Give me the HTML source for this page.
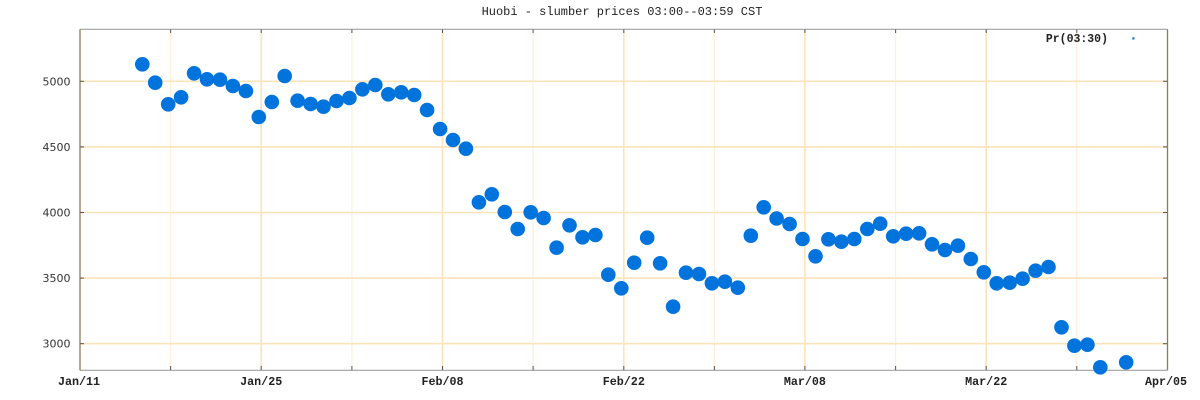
<!DOCTYPE html>
<html><head><meta charset="utf-8"><style>
html,body{margin:0;padding:0;background:#fff;}
svg{display:block;}
</style></head><body>
<svg width="1200" height="400" viewBox="0 0 1200 400" xmlns="http://www.w3.org/2000/svg">
<rect x="0" y="0" width="1200" height="400" fill="#fff"/>
<g stroke="#fff0dc" stroke-width="1.3">
<line x1="170.6" y1="29.5" x2="170.6" y2="370"/>
<line x1="351.9" y1="29.5" x2="351.9" y2="370"/>
<line x1="533.1" y1="29.5" x2="533.1" y2="370"/>
<line x1="714.4" y1="29.5" x2="714.4" y2="370"/>
<line x1="895.6" y1="29.5" x2="895.6" y2="370"/>
<line x1="1076.8" y1="29.5" x2="1076.8" y2="370"/>
</g>
<g stroke="#ffe3b8" stroke-width="1.6">
<line x1="261.2" y1="29.5" x2="261.2" y2="370"/>
<line x1="442.5" y1="29.5" x2="442.5" y2="370"/>
<line x1="623.8" y1="29.5" x2="623.8" y2="370"/>
<line x1="804.9" y1="29.5" x2="804.9" y2="370"/>
<line x1="986.2" y1="29.5" x2="986.2" y2="370"/>
<line x1="80" y1="81.3" x2="1167.5" y2="81.3"/>
<line x1="80" y1="146.9" x2="1167.5" y2="146.9"/>
<line x1="80" y1="212.5" x2="1167.5" y2="212.5"/>
<line x1="80" y1="278.1" x2="1167.5" y2="278.1"/>
<line x1="80" y1="343.7" x2="1167.5" y2="343.7"/>
</g>
<line x1="80" y1="29.3" x2="1167.5" y2="29.3" stroke="#a0a0a0" stroke-width="1.2"/>
<line x1="80" y1="370.3" x2="1167.5" y2="370.3" stroke="#a0a0a0" stroke-width="1.2"/>
<line x1="80" y1="29.3" x2="80" y2="370.3" stroke="#8e7b5c" stroke-width="1.3"/>
<line x1="1167.5" y1="29.3" x2="1167.5" y2="370.3" stroke="#8e7b5c" stroke-width="1.3"/>
<g stroke="#555" stroke-width="1">
<line x1="170.6" y1="370" x2="170.6" y2="366"/><line x1="261.2" y1="370" x2="261.2" y2="366"/>
<line x1="351.9" y1="370" x2="351.9" y2="366"/><line x1="442.5" y1="370" x2="442.5" y2="366"/>
<line x1="533.1" y1="370" x2="533.1" y2="366"/><line x1="623.8" y1="370" x2="623.8" y2="366"/>
<line x1="714.4" y1="370" x2="714.4" y2="366"/><line x1="804.9" y1="370" x2="804.9" y2="366"/>
<line x1="895.6" y1="370" x2="895.6" y2="366"/><line x1="986.2" y1="370" x2="986.2" y2="366"/>
<line x1="1076.8" y1="370" x2="1076.8" y2="366"/>
<line x1="170.6" y1="29.5" x2="170.6" y2="33"/><line x1="261.2" y1="29.5" x2="261.2" y2="33"/>
<line x1="351.9" y1="29.5" x2="351.9" y2="33"/><line x1="442.5" y1="29.5" x2="442.5" y2="33"/>
<line x1="533.1" y1="29.5" x2="533.1" y2="33"/><line x1="623.8" y1="29.5" x2="623.8" y2="33"/>
<line x1="714.4" y1="29.5" x2="714.4" y2="33"/><line x1="804.9" y1="29.5" x2="804.9" y2="33"/>
<line x1="895.6" y1="29.5" x2="895.6" y2="33"/><line x1="986.2" y1="29.5" x2="986.2" y2="33"/>
<line x1="1076.8" y1="29.5" x2="1076.8" y2="33"/>
<line x1="80" y1="81.3" x2="84" y2="81.3"/><line x1="80" y1="146.9" x2="84" y2="146.9"/>
<line x1="80" y1="212.5" x2="84" y2="212.5"/><line x1="80" y1="278.1" x2="84" y2="278.1"/>
<line x1="80" y1="343.7" x2="84" y2="343.7"/>
<line x1="1167" y1="81.3" x2="1163" y2="81.3"/><line x1="1167" y1="146.9" x2="1163" y2="146.9"/>
<line x1="1167" y1="212.5" x2="1163" y2="212.5"/><line x1="1167" y1="278.1" x2="1163" y2="278.1"/>
<line x1="1167" y1="343.7" x2="1163" y2="343.7"/>
</g>
<text x="622" y="15" font-family="Liberation Mono, monospace" font-size="12" fill="#222" text-anchor="middle">Huobi - slumber prices 03:00--03:59 CST</text>
<g font-family="DejaVu Sans, sans-serif" font-size="11" fill="#333" text-anchor="end">
<text x="70.5" y="85.3">5000</text>
<text x="70.5" y="150.9">4500</text>
<text x="70.5" y="216.5">4000</text>
<text x="70.5" y="282.1">3500</text>
<text x="70.5" y="347.7">3000</text>
</g>
<g font-family="Liberation Mono, monospace" font-size="11.7" fill="#222" text-anchor="middle" font-weight="bold">
<text x="79" y="385">Jan/11</text>
<text x="261.2" y="385">Jan/25</text>
<text x="442.5" y="385">Feb/08</text>
<text x="623.8" y="385">Feb/22</text>
<text x="804.9" y="385">Mar/08</text>
<text x="986.2" y="385">Mar/22</text>
<text x="1166" y="385">Apr/05</text>
</g>
<text x="1108" y="42" font-family="Liberation Mono, monospace" font-size="11.5" font-weight="bold" fill="#222" text-anchor="end">Pr(03:30)</text>
<rect x="1132.3" y="37.3" width="2.2" height="2.2" fill="#0073dd"/>
<g fill="#0073dd">
<circle cx="142.3" cy="64.3" r="7.3"/>
<circle cx="155.2" cy="82.7" r="7.3"/>
<circle cx="168.2" cy="104.3" r="7.3"/>
<circle cx="181.1" cy="97.3" r="7.3"/>
<circle cx="194.1" cy="73.3" r="7.3"/>
<circle cx="207.0" cy="79.3" r="7.3"/>
<circle cx="220.0" cy="79.7" r="7.3"/>
<circle cx="232.9" cy="86" r="7.3"/>
<circle cx="245.9" cy="91" r="7.3"/>
<circle cx="258.8" cy="117" r="7.3"/>
<circle cx="271.8" cy="102" r="7.3"/>
<circle cx="284.7" cy="76" r="7.3"/>
<circle cx="297.6" cy="100.7" r="7.3"/>
<circle cx="310.6" cy="104" r="7.3"/>
<circle cx="323.5" cy="106.7" r="7.3"/>
<circle cx="336.5" cy="101" r="7.3"/>
<circle cx="349.4" cy="98" r="7.3"/>
<circle cx="362.4" cy="89.3" r="7.3"/>
<circle cx="375.3" cy="85" r="7.3"/>
<circle cx="388.3" cy="94.3" r="7.3"/>
<circle cx="401.2" cy="92.3" r="7.3"/>
<circle cx="414.2" cy="95" r="7.3"/>
<circle cx="427.1" cy="110" r="7.3"/>
<circle cx="440.1" cy="129" r="7.3"/>
<circle cx="453.0" cy="140" r="7.3"/>
<circle cx="465.9" cy="148.7" r="7.3"/>
<circle cx="478.9" cy="202.3" r="7.3"/>
<circle cx="491.8" cy="194.3" r="7.3"/>
<circle cx="504.8" cy="212" r="7.3"/>
<circle cx="517.7" cy="229" r="7.3"/>
<circle cx="530.7" cy="212.3" r="7.3"/>
<circle cx="543.6" cy="218" r="7.3"/>
<circle cx="556.6" cy="247.7" r="7.3"/>
<circle cx="569.5" cy="225.3" r="7.3"/>
<circle cx="582.5" cy="237.3" r="7.3"/>
<circle cx="595.4" cy="235" r="7.3"/>
<circle cx="608.3" cy="274.7" r="7.3"/>
<circle cx="621.3" cy="288.3" r="7.3"/>
<circle cx="634.2" cy="262.7" r="7.3"/>
<circle cx="647.2" cy="237.7" r="7.3"/>
<circle cx="660.1" cy="263.3" r="7.3"/>
<circle cx="673.1" cy="306.7" r="7.3"/>
<circle cx="686.0" cy="272.7" r="7.3"/>
<circle cx="699.0" cy="274" r="7.3"/>
<circle cx="711.9" cy="283.3" r="7.3"/>
<circle cx="724.9" cy="281.7" r="7.3"/>
<circle cx="737.8" cy="287.7" r="7.3"/>
<circle cx="750.8" cy="235.7" r="7.3"/>
<circle cx="763.7" cy="207.3" r="7.3"/>
<circle cx="776.6" cy="218.5" r="7.3"/>
<circle cx="789.6" cy="224" r="7.3"/>
<circle cx="802.5" cy="239" r="7.3"/>
<circle cx="815.5" cy="256.3" r="7.3"/>
<circle cx="828.4" cy="239.3" r="7.3"/>
<circle cx="841.4" cy="241.7" r="7.3"/>
<circle cx="854.3" cy="239" r="7.3"/>
<circle cx="867.3" cy="229" r="7.3"/>
<circle cx="880.2" cy="223.7" r="7.3"/>
<circle cx="893.2" cy="236.3" r="7.3"/>
<circle cx="906.1" cy="233.7" r="7.3"/>
<circle cx="919.1" cy="233.3" r="7.3"/>
<circle cx="932.0" cy="244.3" r="7.3"/>
<circle cx="945.0" cy="250" r="7.3"/>
<circle cx="957.9" cy="245.7" r="7.3"/>
<circle cx="970.8" cy="259" r="7.3"/>
<circle cx="983.8" cy="272.3" r="7.3"/>
<circle cx="996.7" cy="283.3" r="7.3"/>
<circle cx="1009.7" cy="282.7" r="7.3"/>
<circle cx="1022.6" cy="278.7" r="7.3"/>
<circle cx="1035.6" cy="270.7" r="7.3"/>
<circle cx="1048.5" cy="267" r="7.3"/>
<circle cx="1061.5" cy="327.3" r="7.3"/>
<circle cx="1074.4" cy="345.7" r="7.3"/>
<circle cx="1087.4" cy="344.7" r="7.3"/>
<circle cx="1100.3" cy="367.3" r="7.3"/>
<circle cx="1126.2" cy="362.3" r="7.3"/>
</g>
</svg>
</body></html>
